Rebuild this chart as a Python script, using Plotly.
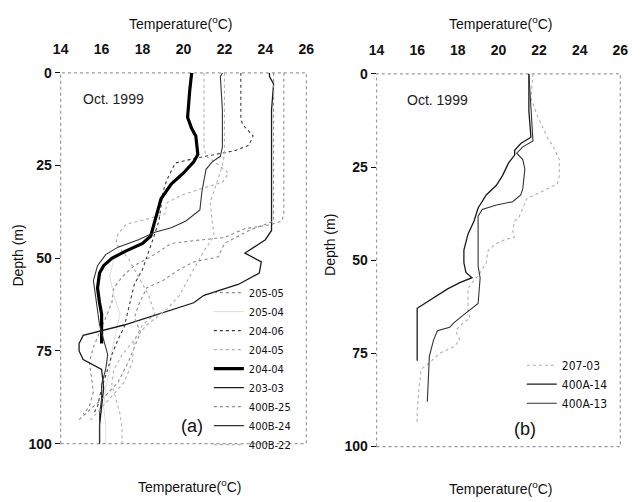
import plotly.graph_objects as go

# ---------------- Panel (a) data: depth (m) and temperature (degC) ----------------
d_205_05 = [0, 10, 20, 30, 38, 40, 41, 42, 44.4, 45.2, 46, 49.6, 52, 55, 58, 62, 66, 70, 74, 78, 82, 86, 90, 92]
t_205_05 = [24.9, 24.9, 24.9, 24.9, 24.9, 24.8, 24.2, 23.0, 22.0, 20.6, 19.4, 18.4, 17.6, 17.0, 16.6, 16.5, 16.2, 15.9, 15.6, 15.4, 15.5, 15.6, 15.4, 15.1]

d_205_04 = [50, 55, 60, 65, 70, 75, 80, 85, 90, 95, 100]
t_205_04 = [16.6, 16.4, 16.6, 16.9, 16.7, 16.5, 16.4, 16.2, 16.1, 16.2, 16.2]

d_204_06 = [0, 5, 12.5, 14, 17, 19.5, 21, 23, 24.3, 28.7, 32, 36, 40, 45, 50, 53, 57, 64, 68.6, 72, 76, 80, 85, 90, 92]
t_204_06 = [22.8, 22.8, 22.8, 22.9, 23.4, 23.2, 22.5, 20.6, 19.6, 19.2, 19.0, 18.9, 18.8, 18.5, 18.2, 18.0, 17.6, 17.3, 17.1, 16.8, 16.5, 16.3, 16.0, 15.8, 15.6]

d_204_05 = [0, 10, 20, 22.5, 23.5, 27, 29.5, 31, 33, 35, 38, 39.5, 40.8, 43.4, 46, 48, 50, 55, 60, 65, 68, 72, 76, 80, 84, 88, 92, 96, 100]
t_204_05 = [21.0, 21.0, 21.0, 21.1, 21.4, 22.2, 21.9, 21.0, 19.9, 19.2, 19.1, 18.2, 17.2, 16.8, 16.7, 17.0, 17.3, 17.8, 18.3, 18.6, 18.0, 17.6, 17.0, 16.6, 16.5, 16.7, 16.9, 17.0, 17.0]

d_204_04 = [0, 5, 12, 15, 17, 22, 24, 27, 30, 34, 40, 44, 46, 48, 50, 52, 54, 58, 62, 65, 68, 72, 73]
t_204_04 = [20.4, 20.3, 20.2, 20.4, 20.6, 20.7, 20.5, 20.0, 19.4, 18.9, 18.6, 18.4, 18.0, 17.2, 16.5, 16.1, 15.9, 15.8, 15.9, 16.0, 16.0, 16.0, 16.0]

d_203_03 = [0, 1, 3, 10, 20, 30, 40, 42.5, 45, 48.6, 51, 54, 57, 60, 62, 64.7, 68, 70.8, 73, 75, 77.3, 80, 85, 90, 95, 100]
t_203_03 = [24.2, 24.2, 24.4, 24.3, 24.3, 24.3, 24.3, 24.3, 24.0, 23.0, 23.8, 23.7, 22.7, 21.0, 20.5, 19.0, 17.1, 15.1, 14.9, 14.9, 15.1, 16.0, 16.1, 16.0, 15.9, 15.9]

d_400b_25 = [0, 40, 42.5, 46, 49.6, 51, 53, 56, 58, 62.7, 66, 70, 74, 78, 83.5, 87, 89, 92, 94]
t_400b_25 = [24.4, 24.4, 23.2, 22.0, 21.7, 20.5, 19.8, 19.0, 18.2, 17.8, 17.6, 17.9, 17.6, 17.3, 16.8, 16.2, 15.8, 15.2, 14.8]

d_400b_24 = [0, 1, 10, 20, 22.5, 24, 26, 32, 37, 40, 41.8, 43, 45, 47, 49, 52, 56, 60, 64, 68, 72, 76, 80, 84, 88, 92, 96, 100]
t_400b_24 = [21.9, 21.8, 21.9, 21.9, 21.8, 21.4, 21.1, 20.9, 20.8, 20.1, 19.4, 18.6, 17.8, 16.8, 16.2, 15.8, 15.6, 15.7, 15.8, 15.9, 16.1, 16.3, 16.2, 16.0, 16.0, 15.9, 15.9, 15.9]

d_400b_22 = [0, 22, 25, 30, 35, 40, 44, 48, 52, 56, 60, 63.7, 68, 72, 78, 83.5, 89, 92, 94]
t_400b_22 = [22.0, 22.0, 21.9, 21.6, 21.3, 21.4, 21.5, 21.0, 20.6, 20.2, 19.8, 19.2, 18.2, 17.6, 17.5, 17.1, 16.2, 15.7, 15.4]

# ---------------- Panel (b) data ----------------
d_207_03 = [0, 6.5, 11, 17, 19.5, 23, 27.4, 29.5, 31.7, 33.4, 36, 38.6, 39.5, 42, 43.8, 44.7, 45.5, 47.3, 50.7, 52.5, 54.2, 56, 57.7, 63.7, 65.5, 67.6, 68.9, 71.5, 73.2, 75, 77.6, 79.2, 83.6, 90.6, 94]
t_207_03 = [21.7, 21.6, 21.9, 22.4, 22.7, 23.0, 23.0, 22.9, 22.1, 21.4, 21.2, 21.0, 20.8, 20.7, 20.8, 20.2, 19.9, 19.5, 19.4, 19.2, 19.0, 18.7, 18.5, 18.5, 18.6, 18.1, 17.9, 18.1, 17.8, 17.1, 16.6, 16.2, 16.1, 16.0, 16.0]

d_400a_14 = [0, 10, 17, 18.7, 20.5, 21.8, 23.9, 27.3, 29.9, 32.5, 36, 39.5, 43, 47.3, 50.7, 53.3, 54.7, 56, 57.7, 59.4, 61.6, 62.9, 70, 75.8, 77]
t_400a_14 = [21.5, 21.5, 21.6, 21.1, 20.8, 20.8, 20.5, 20.2, 19.9, 19.4, 19.0, 18.8, 18.5, 18.3, 18.3, 18.4, 18.7, 18.1, 17.5, 17.0, 16.4, 16.0, 16.0, 16.0, 16.0]

d_400a_13 = [0, 10, 18, 19.6, 21.3, 23, 25.6, 30.8, 32.5, 34.3, 35.2, 36.4, 38.2, 43, 51.6, 54.7, 60, 61.6, 64.6, 66.8, 68, 68.9, 71.5, 75.8, 88]
t_400a_13 = [21.5, 21.6, 21.7, 21.2, 20.9, 21.2, 21.3, 21.2, 21.1, 20.7, 19.9, 19.2, 19.0, 19.0, 19.0, 19.1, 19.0, 19.0, 18.3, 17.8, 17.6, 17.0, 16.8, 16.6, 16.5]

x_ticks = [14, 16, 18, 20, 22, 24, 26]
y_ticks = [0, 25, 50, 75, 100]

fig = go.Figure()

GRAY_DOT = dict(color="#8c8c8c", width=1.1, dash="dot")
LIGHT_DOT = dict(color="#b0b0b0", width=1.1, dash="dot")
BLACK = dict(color="#1a1a1a", width=1.3)
DARK = dict(color="#333333", width=1.1)

series_a = [
    ("205-05", d_205_05, t_205_05, GRAY_DOT),
    ("205-04", d_205_04, t_205_04, dict(color="#dedede", width=1)),
    ("204-06", d_204_06, t_204_06, dict(color="#3a3a3a", width=1.1, dash="dot")),
    ("204-05", d_204_05, t_204_05, LIGHT_DOT),
    ("204-04", d_204_04, t_204_04, dict(color="#000000", width=3.2)),
    ("203-03", d_203_03, t_203_03, BLACK),
    ("400B-25", d_400b_25, t_400b_25, GRAY_DOT),
    ("400B-24", d_400b_24, t_400b_24, DARK),
    ("400B-22", d_400b_22, t_400b_22, LIGHT_DOT),
]
for name, d, t, ln in series_a:
    fig.add_trace(go.Scatter(x=t, y=d, mode="lines", name=name, line=ln,
                             xaxis="x", yaxis="y", legend="legend"))

series_b = [
    ("207-03", d_207_03, t_207_03, LIGHT_DOT),
    ("400A-14", d_400a_14, t_400a_14, BLACK),
    ("400A-13", d_400a_13, t_400a_13, DARK),
]
for name, d, t, ln in series_b:
    fig.add_trace(go.Scatter(x=t, y=d, mode="lines", name=name, line=ln,
                             xaxis="x2", yaxis="y2", legend="legend2"))

W, H = 640, 502
def px(x):
    return x / W
def py(y):
    return 1 - y / H

FONT = "Liberation Sans, Arial, sans-serif"
TICKFONT = dict(family=FONT, size=14, color="#111", weight="bold")

xcommon = dict(range=[14, 26], tickvals=x_ticks, side="top", showgrid=False, zeroline=False,
               showline=False, ticks="", tickfont=TICKFONT, fixedrange=True,
               ticklabelstandoff=15)
ycommon = dict(range=[100, 0], tickvals=y_ticks, showgrid=False, zeroline=False, showline=False,
               ticks="outside", ticklen=5, tickwidth=1.3, tickcolor="#111", tickfont=TICKFONT,
               fixedrange=True, ticklabelstandoff=0)

LEGFONT = "Liberation Sans Narrow, DejaVu Sans Condensed, Arial Narrow, sans-serif"

fig.update_layout(
    width=W, height=H, margin=dict(l=0, r=0, t=0, b=0),
    paper_bgcolor="white", plot_bgcolor="white",
    font=dict(family=FONT, color="#111"),
    xaxis=dict(domain=[px(54), px(306)], anchor="y", **xcommon),
    yaxis=dict(domain=[py(450), py(67)], anchor="x", **ycommon),
    xaxis2=dict(domain=[px(378), px(628)], anchor="y2", **xcommon),
    yaxis2=dict(domain=[py(453), py(68)], anchor="x2", **ycommon),
    legend=dict(x=px(206), y=py(279), xanchor="left", yanchor="top",
                font=dict(family=LEGFONT, size=11, color="#111"),
                bgcolor="rgba(0,0,0,0)", tracegroupgap=0, itemwidth=30),
    legend2=dict(x=px(527), y=py(354), xanchor="left", yanchor="top",
                 font=dict(family=LEGFONT, size=12, color="#111"),
                 bgcolor="rgba(0,0,0,0)", tracegroupgap=0, itemwidth=30),
    showlegend=True,
)

# dotted frames
for xr, yr in (("x domain", "y domain"), ("x2 domain", "y2 domain")):
    fig.add_shape(type="rect", xref=xr, yref=yr, x0=0, x1=1, y0=0, y1=1,
                  line=dict(color="#9a9a9a", width=1.2, dash="dot"), layer="below")

title_txt = "Temperature(<sup>o</sup>C)"
ann = []
def paper_text(text, x, y, size, angle=0):
    ann.append(dict(text=text, x=px(x), y=py(y), xref="paper", yref="paper", showarrow=False,
                    xanchor="center", yanchor="middle", textangle=angle, font=dict(size=size)))

paper_text(title_txt, 177, 16, 14)
paper_text(title_txt, 506, 16, 14)
paper_text(title_txt, 187, 494, 14)
paper_text(title_txt, 506, 496, 14)
paper_text("Depth (m)", 10, 256, 14, -90)
paper_text("Depth (m)", 330, 245, 14, -90)

ann.append(dict(text="Oct. 1999", x=16.6, y=7, xref="x", yref="y", showarrow=False,
                xanchor="center", yanchor="middle", font=dict(size=14, color="#222")))
ann.append(dict(text="Oct. 1999", x=17.0, y=7, xref="x2", yref="y2", showarrow=False,
                xanchor="center", yanchor="middle", font=dict(size=14, color="#222")))
ann.append(dict(text="(a)", x=20.4, y=95.3, xref="x", yref="y", showarrow=False,
                xanchor="center", yanchor="middle", font=dict(size=18)))
ann.append(dict(text="(b)", x=21.3, y=95.3, xref="x2", yref="y2", showarrow=False,
                xanchor="center", yanchor="middle", font=dict(size=18)))
fig.update_layout(annotations=ann)

fig.write_html("out.html")
